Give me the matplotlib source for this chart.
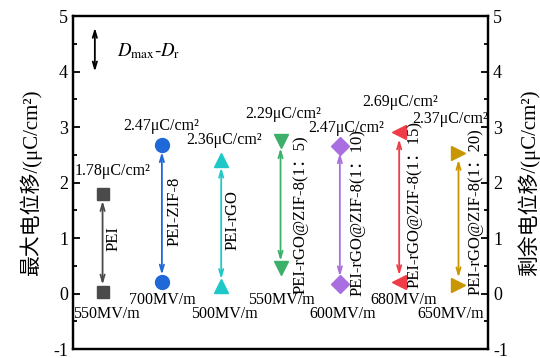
import matplotlib
matplotlib.use('Agg')
import matplotlib.pyplot as plt

plt.rcParams['font.family'] = ['Liberation Serif', 'Noto Sans CJK SC']
plt.rcParams['mathtext.fontset'] = 'stix'

# data
samples = ['PEI', 'PEI-ZIF-8', 'PEI-rGO', 'PEI-rGO@ZIF-8(1：5)', 'PEI-rGO@ZIF-8(1：10)',
           'PEI-rGO@ZIF-8(1：15)', 'PEI-rGO@ZIF-8(1：20)']
d_max = [1.80, 2.68, 2.40, 2.75, 2.66, 2.91, 2.54]
d_r = [0.03, 0.21, 0.13, 0.46, 0.18, 0.20, 0.16]
diff_labels = ['1.78μC/cm²', '2.47μC/cm²', '2.36μC/cm²', '2.29μC/cm²',
               '2.47μC/cm²', '2.69μC/cm²', '2.37μC/cm²']
field_labels = ['550MV/m', '700MV/m', '500MV/m', '550MV/m', '600MV/m', '680MV/m', '650MV/m']
yticks = [-1, 0, 1, 2, 3, 4, 5]

colors = ['#4a4a4a', '#1f68d8', '#1ec8c8', '#3cb06a', '#a96fe0', '#f03c46', '#c89600']
markers = ['s', 'o', '^', 'v', 'D', '<', '>']
msizes = [9, 10, 10, 10, 9, 10, 10]

# label placement (offsets)
top_lab = [(0.175, 2.2), (-0.02, 3.02), (0.05, 2.77), (0.04, 3.23), (0.1, 2.98), (0.01, 3.45), (-0.14, 3.14)]
bot_lab = [(0.07, -0.375), (0.0, -0.11), (0.06, -0.375), (0.02, -0.11), (0.04, -0.375), (0.08, -0.11), (-0.14, -0.375)]
rot_lab = [(0.19, 1.0, 'center'), (0.22, 0.86, 'bottom'), (0.19, 0.79, 'bottom'), (0.34, 0.0, 'bottom'),
           (0.3, -0.04, 'bottom'), (0.26, 0.1, 'bottom'), (0.28, -0.02, 'bottom')]

fig = plt.figure(figsize=(5.4, 3.58), dpi=100)
ax = fig.add_axes([0.135, 0.025, 0.769, 0.93])

xs = list(range(1, len(samples) + 1))
for i, x in enumerate(xs):
    c = colors[i]
    ax.plot([x, x], [d_max[i], d_r[i]], linestyle='none', marker=markers[i],
            markersize=msizes[i], color=c, zorder=3)
    ax.annotate('', xy=(x, d_r[i] + 0.13), xytext=(x, d_max[i] - 0.13),
                arrowprops=dict(arrowstyle='<->, head_length=0.5, head_width=0.15',
                                color=c, lw=1.3, shrinkA=0, shrinkB=0))
    ax.text(x + top_lab[i][0], top_lab[i][1], diff_labels[i], ha='center', va='center',
            fontsize=11.5)
    ax.text(x + bot_lab[i][0], bot_lab[i][1], field_labels[i], ha='center', va='center',
            fontsize=11.5)
    ax.text(x + rot_lab[i][0], rot_lab[i][1], samples[i], rotation=90, ha='center',
            va=rot_lab[i][2], fontsize=12)

# legend arrow
ax.annotate('', xy=(0.87, 4.0), xytext=(0.87, 4.79),
            arrowprops=dict(arrowstyle='<->, head_length=0.5, head_width=0.15',
                            color='black', lw=1.3, shrinkA=0, shrinkB=0))
ax.text(1.24, 4.36, r'$D_{\rm max}$-$D_{\rm r}$', fontsize=13.5, va='center')

ax.set_xlim(0.5, 7.5)
ax.set_ylim(-1, 5)
ax.set_xticks([])

ax2 = ax.twinx()
ax2.set_ylim(-1, 5)

for a in (ax, ax2):
    a.set_yticks(yticks)
    a.set_yticks([v + 0.5 for v in yticks[:-1]], minor=True)
    a.set_yticklabels([str(v) for v in yticks])
    a.tick_params(axis='y', which='both', direction='in', labelsize=13, width=1.3)
    a.tick_params(axis='y', which='major', length=5)
    a.tick_params(axis='y', which='minor', length=3)
    for s in a.spines.values():
        s.set_linewidth(1.6)

ax.set_ylabel('最大电位移/(μC/cm²)', fontsize=15, labelpad=8)
ax2.set_ylabel('剩余电位移/(μC/cm²)', fontsize=15, labelpad=7)

fig.savefig('out.png', dpi=100)
